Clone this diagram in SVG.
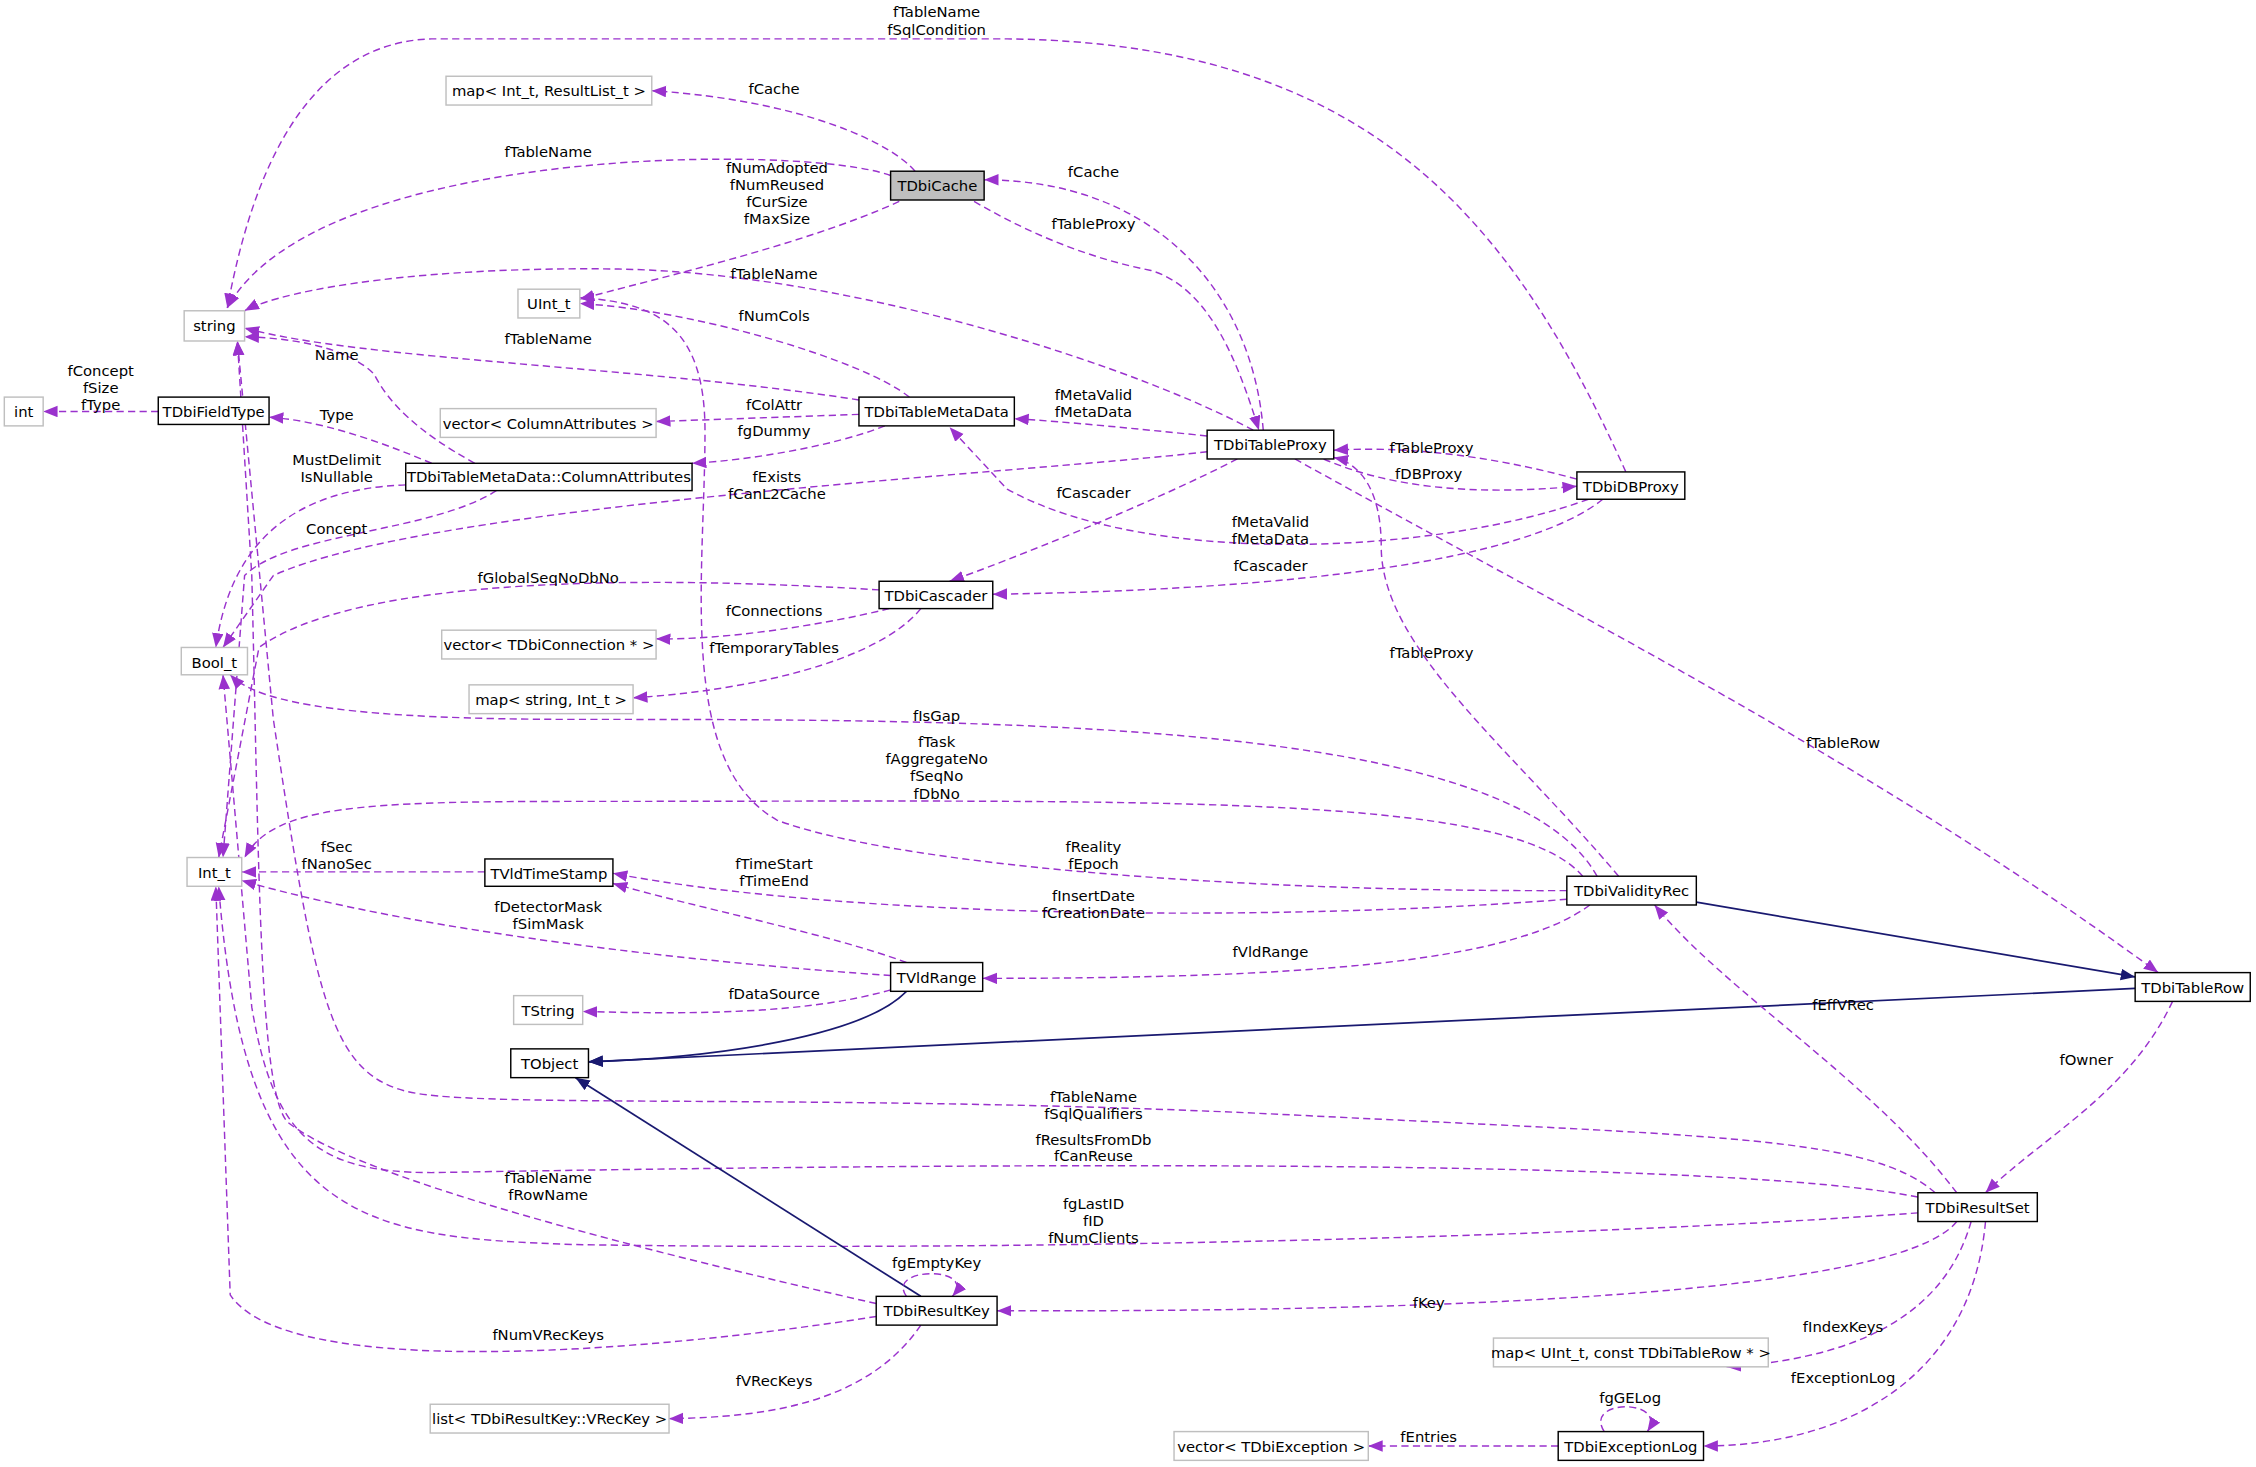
<svg xmlns="http://www.w3.org/2000/svg" width="2256" height="1467" viewBox="0 0 2256 1467">
<style>
text{font-family:"DejaVu Sans",sans-serif;font-size:10.3px;fill:#000;text-anchor:middle}
.n rect{fill:#fff;stroke:#000;stroke-width:1}
.g rect{fill:#fff;stroke:#bfbfbf;stroke-width:1}
.d{fill:none;stroke:#9a32cd;stroke-width:1;stroke-dasharray:5,3;marker-end:url(#ap)}
.s{fill:none;stroke:#191970;stroke-width:1.2;marker-end:url(#an)}
</style>
<defs>
<marker id="ap" markerUnits="userSpaceOnUse" markerWidth="12" markerHeight="10" refX="10" refY="4" orient="auto"><path d="M0,0 L10,4 L0,8 Z" fill="#9a32cd"/></marker>
<marker id="an" markerUnits="userSpaceOnUse" markerWidth="12" markerHeight="10" refX="10" refY="4" orient="auto"><path d="M0,0 L10,4 L0,8 Z" fill="#191970"/></marker>
</defs>
<rect width="2256" height="1467" fill="#fff"/>
<g transform="scale(1.43878)">
<g id="connectors">
<path class="d" d="M636,119 C620,100 560,70 453,63"/><text x="538" y="65">fCache</text>
<path class="d" d="M619,122 C560,100 220,100 158,214"/><text x="381" y="109">fTableName</text>
<path class="d" d="M625,140 C560,170 450,195 403,208"/><text x="540" y="120">fNumAdopted</text><text x="540" y="132">fNumReused</text><text x="540" y="144">fCurSize</text><text x="540" y="156">fMaxSize</text>
<path class="d" d="M878,299 C870,200 800,125 684,125"/><text x="760" y="123">fCache</text>
<path class="d" d="M677,140 C720,165 760,180 800,188 C840,200 860,250 875,299"/><text x="760" y="159">fTableProxy</text>
<path class="d" d="M871,299 C800,260 600,190 430,187 C300,185 200,200 170,216"/><text x="538" y="194">fTableName</text>
<path class="d" d="M632,276 C600,250 480,215 403,211"/><text x="538" y="223">fNumCols</text>
<path class="d" d="M597,278 C450,255 250,250 170,228"/><text x="381" y="239">fTableName</text>
<path class="d" d="M597,288 L456,293"/><text x="538" y="285">fColAttr</text>
<path class="d" d="M615,296 C580,310 520,320 481,322"/><text x="538" y="303">fgDummy</text>
<path class="d" d="M839,303 C790,298 740,293 705,291"/><text x="760" y="278">fMetaValid</text><text x="760" y="290">fMetaData</text>
<path class="d" d="M1104,347 C1000,385 800,395 700,340 L660,297"/><text x="883" y="366">fMetaValid</text><text x="883" y="378">fMetaData</text>
<path class="d" d="M1096,333 C1030,315 970,310 927,313"/><text x="995" y="315">fTableProxy</text>
<path class="d" d="M920,319 C980,345 1050,342 1096,338"/><text x="993" y="333">fDBProxy</text>
<path class="d" d="M1130,328 C1050,150 950,30 700,27 L300,27 C200,30 170,150 158,214"/><text x="651" y="12">fTableName</text><text x="651" y="24">fSqlCondition</text>
<path class="d" d="M860,319 C800,350 700,390 660,404"/><text x="760" y="346">fCascader</text>
<path class="d" d="M1114,347 C1060,390 900,410 690,413"/><text x="883" y="397">fCascader</text>
<path class="d" d="M839,314 C700,330 300,350 190,400 L155,450"/><text x="540" y="335">fExists</text><text x="540" y="347">fCanL2Cache</text>
<path class="d" d="M282,337 C200,340 160,380 150,450"/><text x="234" y="323">MustDelimit</text><text x="234" y="335">IsNullable</text>
<path class="d" d="M300,322 C260,305 220,292 187,290"/><text x="234" y="292">Type</text>
<path class="d" d="M330,322 C290,300 270,280 260,260 C240,240 200,235 170,234"/><text x="234" y="250">Name</text>
<path class="d" d="M110,286 L30,286"/><text x="70" y="261">fConcept</text><text x="70" y="273">fSize</text><text x="70" y="285">fType</text>
<path class="d" d="M345,341 C300,370 200,370 170,400 L155,596"/><text x="234" y="371">Concept</text>
<path class="d" d="M611,410 C450,400 250,400 180,450 L152,596"/><text x="381" y="405">fGlobalSeqNoDbNo</text>
<path class="d" d="M618,423 C570,435 500,445 456,444"/><text x="538" y="428">fConnections</text>
<path class="d" d="M640,423 C610,460 520,480 440,485"/><text x="538" y="454">fTemporaryTables</text>
<path class="d" d="M1110,609 C1050,500 700,500 400,500 C250,500 180,490 160,469"/><text x="651" y="501">fIsGap</text>
<path class="d" d="M1100,609 C1050,550 800,557 400,557 C250,557 190,560 170,596"/><text x="651" y="519">fTask</text><text x="651" y="531">fAggregateNo</text><text x="651" y="543">fSeqNo</text><text x="651" y="555">fDbNo</text>
<path class="d" d="M1089,619 C850,620 620,600 540,570 C470,530 490,400 490,300 C490,230 460,210 403,207"/><text x="760" y="592">fReality</text><text x="760" y="604">fEpoch</text>
<path class="d" d="M1089,625 C900,640 600,640 426,607"/><text x="760" y="626">fInsertDate</text><text x="760" y="638">fCreationDate</text>
<path class="d" d="M1105,629 C1050,670 900,680 683,680"/><text x="883" y="665">fVldRange</text>
<path class="d" d="M1125,609 C1050,520 960,450 960,380 C960,340 945,322 927,318"/><text x="995" y="457">fTableProxy</text>
<path class="s" d="M1179,627 L1484,679"/>
<path class="d" d="M337,606 L168,606"/><text x="234" y="592">fSec</text><text x="234" y="604">fNanoSec</text>
<path class="d" d="M630,669 C580,650 480,630 426,614"/><text x="538" y="604">fTimeStart</text><text x="538" y="616">fTimeEnd</text>
<path class="d" d="M619,678 C500,670 300,650 168,612"/><text x="381" y="634">fDetectorMask</text><text x="381" y="646">fSimMask</text>
<path class="d" d="M619,688 C560,705 480,705 405,703"/><text x="538" y="694">fDataSource</text>
<path class="s" d="M630,689 C600,720 500,735 409,738"/>
<path class="s" d="M1484,687 L409,738"/>
<path class="d" d="M900,319 C1100,430 1300,530 1500,676"/><text x="1281" y="520">fTableRow</text>
<path class="d" d="M1510,696 C1480,760 1420,790 1380,829"/><text x="1450" y="740">fOwner</text>
<path class="d" d="M1360,829 C1300,750 1200,690 1150,629"/><text x="1281" y="702">fEffVRec</text>
<path class="d" d="M1345,829 C1300,790 1200,790 900,775 C600,760 350,770 290,760 C230,750 220,700 190,500 L165,237"/><text x="760" y="766">fTableName</text><text x="760" y="778">fSqlQualifiers</text>
<path class="d" d="M1333,832 C1200,805 700,808 300,815 C220,815 190,790 175,700 L155,469"/><text x="760" y="796">fResultsFromDb</text><text x="760" y="807">fCanReuse</text>
<path class="d" d="M1333,843 C1100,860 700,870 400,865 C250,860 170,850 152,616"/><text x="760" y="840">fgLastID</text><text x="760" y="852">fID</text><text x="760" y="864">fNumClients</text>
<path class="d" d="M609,906 C450,870 250,820 200,780 C180,760 180,600 175,400 L165,237"/><text x="381" y="822">fTableName</text><text x="381" y="834">fRowName</text>
<path class="d" d="M609,915 C450,940 200,960 160,900 L150,616"/><text x="381" y="931">fNumVRecKeys</text>
<path class="s" d="M640,901 L400,749"/>
<path class="d" d="M630,901 C615,880 680,880 662,901"/><text x="651" y="881">fgEmptyKey</text>
<path class="d" d="M1360,849 C1320,900 1000,912 693,911"/><text x="993" y="909">fKey</text>
<path class="d" d="M640,921 C600,980 520,985 465,986"/><text x="538" y="963">fVRecKeys</text>
<path class="d" d="M1370,849 C1350,920 1280,945 1200,950"/><text x="1281" y="926">fIndexKeys</text>
<path class="d" d="M1380,849 C1370,960 1280,1005 1184,1005"/><text x="1281" y="961">fExceptionLog</text>
<path class="d" d="M1083,1005 L951,1005"/><text x="993" y="1002">fEntries</text>
<path class="d" d="M1115,995 C1100,972 1160,972 1145,995"/><text x="1133" y="975">fgGELog</text>
</g>
<g id="map_int" class="g"><rect x="310" y="53" width="143" height="20"/><text x="381.5" y="67">map&lt; Int_t, ResultList_t &gt;</text></g>
<g id="TDbiCache"><rect x="619" y="119" width="65" height="20" fill="#bfbfbf" stroke="#000"/><text x="651.5" y="133">TDbiCache</text></g>
<g id="string" class="g"><rect x="128" y="216" width="42" height="21"/><text x="149" y="230">string</text></g>
<g id="UInt_t" class="g"><rect x="360" y="201" width="43" height="20"/><text x="381.5" y="215">UInt_t</text></g>
<g id="int" class="g"><rect x="3" y="276" width="27" height="20"/><text x="16.5" y="290">int</text></g>
<g id="TDbiFieldType" class="n"><rect x="110" y="276" width="77" height="19"/><text x="148.5" y="290">TDbiFieldType</text></g>
<g id="vector_colattr" class="g"><rect x="306" y="284" width="150" height="20"/><text x="381" y="298">vector&lt; ColumnAttributes &gt;</text></g>
<g id="TDbiTableMetaData" class="n"><rect x="597" y="276" width="108" height="20"/><text x="651" y="290">TDbiTableMetaData</text></g>
<g id="ColumnAttributes" class="n"><rect x="282" y="322" width="199" height="19"/><text x="381.5" y="335">TDbiTableMetaData::ColumnAttributes</text></g>
<g id="TDbiTableProxy" class="n"><rect x="839" y="299" width="88" height="20"/><text x="883" y="313">TDbiTableProxy</text></g>
<g id="TDbiDBProxy" class="n"><rect x="1096" y="328" width="75" height="19"/><text x="1133.5" y="342">TDbiDBProxy</text></g>
<g id="TDbiCascader" class="n"><rect x="611" y="404" width="79" height="19"/><text x="650.5" y="418">TDbiCascader</text></g>
<g id="vector_conn" class="g"><rect x="307" y="438" width="149" height="20"/><text x="381.5" y="452">vector&lt; TDbiConnection * &gt;</text></g>
<g id="Bool_t" class="g"><rect x="126" y="450" width="46" height="19"/><text x="149" y="464">Bool_t</text></g>
<g id="map_string" class="g"><rect x="326" y="476" width="114" height="20"/><text x="383" y="490">map&lt; string, Int_t &gt;</text></g>
<g id="Int_t" class="g"><rect x="130" y="596" width="38" height="20"/><text x="149" y="610">Int_t</text></g>
<g id="TVldTimeStamp" class="n"><rect x="337" y="597" width="89" height="19"/><text x="381.5" y="611">TVldTimeStamp</text></g>
<g id="TDbiValidityRec" class="n"><rect x="1089" y="609" width="90" height="20"/><text x="1134" y="623">TDbiValidityRec</text></g>
<g id="TVldRange" class="n"><rect x="619" y="669" width="64" height="20"/><text x="651" y="683">TVldRange</text></g>
<g id="TString" class="g"><rect x="357" y="692" width="48" height="20"/><text x="381" y="706">TString</text></g>
<g id="TDbiTableRow" class="n"><rect x="1484" y="676" width="80" height="20"/><text x="1524" y="690">TDbiTableRow</text></g>
<g id="TObject" class="n"><rect x="355" y="729" width="54" height="20"/><text x="382" y="743">TObject</text></g>
<g id="TDbiResultSet" class="n"><rect x="1333" y="829" width="83" height="20"/><text x="1374.5" y="843">TDbiResultSet</text></g>
<g id="TDbiResultKey" class="n"><rect x="609" y="901" width="84" height="20"/><text x="651" y="915">TDbiResultKey</text></g>
<g id="map_uint" class="g"><rect x="1038" y="930" width="191" height="20"/><text x="1133.5" y="944">map&lt; UInt_t, const TDbiTableRow * &gt;</text></g>
<g id="list_vrec" class="g"><rect x="299" y="976" width="166" height="20"/><text x="382" y="990">list&lt; TDbiResultKey::VRecKey &gt;</text></g>
<g id="vector_exc" class="g"><rect x="816" y="995" width="135" height="20"/><text x="883.5" y="1009">vector&lt; TDbiException &gt;</text></g>
<g id="TDbiExceptionLog" class="n"><rect x="1083" y="995" width="101" height="20"/><text x="1133.5" y="1009">TDbiExceptionLog</text></g>
</g>
</svg>
